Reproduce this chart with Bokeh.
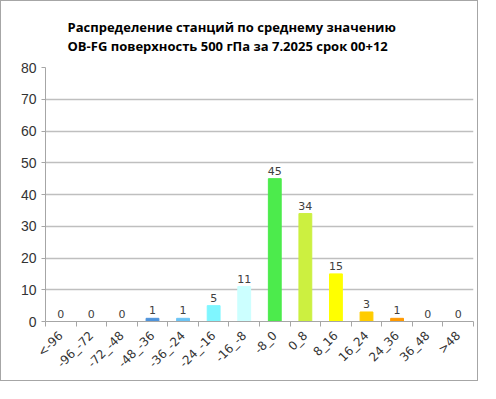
import math
from bokeh.plotting import figure
from bokeh.models import Range1d, FixedTicker, Title, ColumnDataSource
from bokeh.core.properties import value
from bokeh.embed import file_html
from bokeh.resources import INLINE

title_line1 = "Распределение станций по среднему значению"
title_line2 = "OB-FG поверхность  500 гПа за 7.2025 срок 00+12"

categories = ["<-96", "-96_-72", "-72_-48", "-48_-36", "-36_-24", "-24_-16", "-16_-8",
              "-8_0", "0_8", "8_16", "16_24", "24_36", "36_48", ">48"]
counts = [0, 0, 0, 1, 1, 5, 11, 45, 34, 15, 3, 1, 0, 0]
colors = ["#1F4E9A", "#2F66B8", "#3A7CCB", "#4F94DB", "#6CC4F4", "#7FF6FF", "#CCFFFF",
          "#4CEB4C", "#CCF040", "#FFFF00", "#FFCC00", "#FF9900", "#FF6600", "#FF0000"]
y_ticks = [0, 10, 20, 30, 40, 50, 60, 70, 80]

n = len(categories)
centers = [i + 0.5 for i in range(n)]
src = ColumnDataSource(dict(x=centers, top=counts, color=colors,
                            label=[str(c) for c in counts]))

p = figure(width=478, height=381, output_backend="svg", toolbar_location=None,
           x_range=Range1d(0, n), y_range=Range1d(0, y_ticks[-1]),
           min_border_left=44, min_border_right=6, min_border_top=66, min_border_bottom=61)
p.styles = {"border": "1px solid #A6A6A6"}
p.outline_line_color = None
p.background_fill_color = "white"
p.border_fill_color = "white"

p.vbar(x="x", top="top", width=0.42, bottom=0, color="color", line_color="color", source=src)
p.text(x="x", y="top", text="label", source=src, text_align="center", text_baseline="bottom",
       y_offset=-4, text_font=value("DejaVu Sans"), text_font_size="11px", text_color="#404040")

# grid
p.xgrid.grid_line_color = None
p.ygrid.grid_line_color = "#BFBFBF"
p.ygrid.grid_line_width = 1.3
p.yaxis.ticker = FixedTicker(ticks=y_ticks)

# y axis
ya = p.yaxis[0]
ya.axis_line_color = "#A6A6A6"
ya.major_tick_line_color = "#A6A6A6"
ya.major_tick_in = 0
ya.major_tick_out = 4
ya.minor_tick_line_color = None
ya.major_label_text_font = "Liberation Sans"
ya.major_label_text_font_size = "14px"
ya.major_label_text_color = "#333333"
ya.major_label_standoff = 5

# x axis
xa = p.xaxis[0]
xa.ticker = FixedTicker(ticks=centers, minor_ticks=list(range(n + 1)))
xa.major_label_overrides = {c: lab for c, lab in zip(centers, categories)}
xa.axis_line_color = "#A6A6A6"
xa.major_tick_line_color = None
xa.minor_tick_line_color = "#A6A6A6"
xa.minor_tick_in = 0
xa.minor_tick_out = 5
xa.major_label_orientation = math.pi / 4
xa.major_label_text_font = "DejaVu Sans"
xa.major_label_text_font_size = "12px"
xa.major_label_text_color = "#333333"
xa.major_label_standoff = 6

p.add_layout(Title(text=title_line1 + "\n" + title_line2, align="left", offset=22, standoff=24,
                   text_line_height=1.07,
                   text_font="Open Sans", text_font_style="bold",
                   text_font_size="13px", text_color="#000000"), "above")

open("out.html", "w").write(file_html(p, INLINE))
